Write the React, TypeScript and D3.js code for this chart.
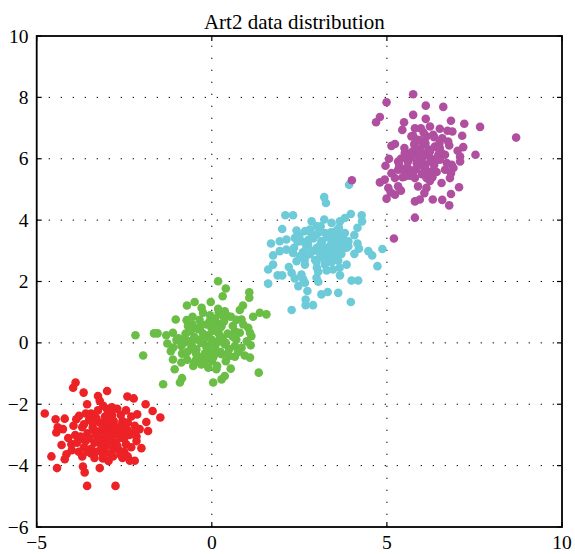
import React from "react";
import * as d3 from "d3";

// Cluster samples, [x, y] in data units
const redPoints: [number, number][] = [
  [-3.89, -1.29], [-3.96, -1.46], [-3.66, -1.62], [-2.99, -1.57], [-3.25, -1.73], [-3.2, -1.89],
  [-2.41, -1.75], [-2.23, -1.81], [-3.56, -2.0], [-1.89, -2.0], [-4.77, -2.3], [-2.99, -2.16],
  [-1.69, -2.22], [-2.13, -2.33], [-1.47, -2.43], [-4.46, -2.49], [-4.2, -2.47], [-3.87, -2.49],
  [-3.79, -2.38], [-1.87, -2.58], [-4.44, -2.92], [-4.25, -2.81], [-4.4, -2.75], [-2.06, -2.81],
  [-1.82, -2.87], [-2.15, -3.05], [-4.29, -3.33], [-4.01, -3.3], [-3.77, -3.14], [-2.01, -3.43],
  [-4.58, -3.7], [-4.2, -3.79], [-4.15, -3.63], [-3.11, -3.77], [-2.82, -3.7], [-2.58, -3.63],
  [-2.34, -3.84], [-2.2, -3.84], [-4.42, -4.08], [-3.68, -4.03], [-3.2, -4.08], [-3.63, -4.22],
  [-3.56, -4.66], [-2.75, -4.66],
  [-2.95, -2.95], [-2.85, -3.05], [-3.05, -3.1], [-2.7, -2.9], [-3.15, -2.85], [-2.9, -2.7],
  [-2.6, -3.1], [-3.3, -3.0], [-2.75, -3.25], [-3.0, -3.35], [-2.5, -2.8], [-3.2, -2.6],
  [-2.8, -2.55], [-2.55, -2.55], [-3.4, -2.75], [-3.35, -3.25], [-2.45, -3.3], [-3.1, -3.5],
  [-2.65, -3.5], [-2.35, -3.0], [-2.4, -2.6], [-2.6, -2.35], [-3.05, -2.4], [-3.3, -2.45],
  [-3.45, -3.45], [-2.9, -3.6], [-2.3, -3.4], [-3.55, -2.95], [-2.2, -2.7], [-2.85, -2.35],
  [-3.2, -3.25], [-2.5, -3.55], [-2.75, -2.75], [-3.0, -2.8], [-2.9, -3.15], [-2.6, -2.7],
  [-3.25, -2.2], [-2.7, -2.15], [-2.45, -2.2], [-3.5, -2.5], [-3.6, -3.2], [-3.45, -3.6],
  [-2.3, -2.4], [-2.15, -3.2], [-3.7, -2.75], [-3.65, -3.4], [-3.9, -3.0], [-3.8, -3.55],
  [-3.95, -2.7], [-4.1, -3.1], [-3.7, -3.7], [-3.35, -3.75], [-2.95, -3.85], [-2.55, -3.75],
  [-2.4, -3.7], [-3.6, -2.3], [-3.1, -2.05], [-2.85, -2.1], [-2.25, -2.95], [-3.1, -3.65],
  [-3.75, -3.05], [-4.0, -3.5], [-3.55, -3.55],
  [-3.0, -3.0], [-2.8, -2.85], [-3.1, -2.7], [-2.65, -3.0], [-3.2, -3.1], [-2.95, -3.25],
  [-3.35, -2.85], [-2.5, -3.1], [-3.15, -3.4], [-2.7, -3.35], [-3.4, -2.6], [-2.55, -2.95],
  [-3.0, -2.55], [-2.8, -3.45], [-3.25, -2.95], [-2.4, -2.85], [-3.5, -3.1], [-2.9, -2.45],
  [-3.3, -3.55], [-2.6, -3.65], [-3.45, -2.3], [-2.95, -2.25], [-3.65, -2.65], [-3.85, -3.25],
];

const greenPoints: [number, number][] = [
  [0.18, 2.01], [0.4, 1.77], [0.31, 1.52], [-0.03, 1.33], [1.07, 1.65], [1.07, 1.47],
  [-0.71, 1.22], [-0.49, 1.33], [-0.29, 1.14], [-0.25, 0.98], [0.18, 1.11], [0.37, 1.03],
  [0.89, 1.22], [0.8, 1.07], [1.37, 0.98], [1.18, 0.85], [1.56, 0.93], [-1.03, 0.76],
  [-0.72, 0.74], [-0.68, 0.55], [-0.06, 0.71], [0.09, 0.79], [0.47, 0.87], [0.85, 0.76],
  [-2.18, 0.25], [-1.65, 0.31], [-1.55, 0.31], [-1.11, 0.33], [-0.63, 0.38], [-0.34, 0.44],
  [-0.01, 0.49], [0.28, 0.55], [0.66, 0.38], [0.8, 0.33], [1.04, 0.49], [1.09, 0.33],
  [1.13, 0.22], [-1.27, -0.02], [-1.01, 0.09], [-0.77, 0.11], [-0.87, -0.1], [-0.58, -0.05],
  [-0.44, -0.21], [-0.1, -0.1], [0.18, 0.06], [0.37, -0.05], [0.66, -0.1], [0.85, -0.16],
  [1.11, -0.08], [-1.17, -0.27], [-1.96, -0.41], [-1.11, -0.54], [-0.87, -0.64], [-0.49, -0.64],
  [-0.34, -0.48], [-0.01, -0.32], [0.04, -0.48], [0.28, -0.37], [0.51, -0.43], [0.66, -0.45],
  [0.94, -0.41], [1.09, -0.48], [-1.06, -0.86], [-0.53, -0.75], [-0.1, -0.81], [0.13, -0.86],
  [0.54, -0.84], [1.34, -0.97], [-0.85, -1.15], [-0.91, -1.29], [-1.39, -1.35], [0.04, -1.29],
  [0.28, -1.19], [0.37, -1.08],
  [-0.5, 0.2], [-0.3, 0.0], [-0.1, 0.25], [0.1, -0.1], [0.3, 0.15], [-0.6, -0.2],
  [-0.2, -0.35], [0.05, 0.4], [0.25, -0.3], [-0.75, 0.3], [-0.4, 0.45], [0.45, 0.3],
  [0.5, -0.2], [-0.85, -0.35], [-0.65, 0.05], [0.15, 0.65], [-0.15, 0.6], [0.35, 0.7],
  [0.6, 0.55], [-0.45, -0.55], [0.0, -0.6], [0.2, 0.05], [-0.25, 0.3], [-0.95, 0.15],
  [0.7, 0.1], [0.55, 0.85], [0.2, 1.0], [-0.05, 0.9], [-0.35, 0.75], [0.75, -0.3],
  [-0.3, -0.7], [0.4, -0.6], [-0.7, -0.55], [-1.1, -0.15], [-1.3, 0.25], [0.9, 0.6],
  [1.0, 0.05], [-0.55, 0.6], [0.1, -0.35], [-0.15, -0.15],
  [-0.4, 0.1], [-0.2, 0.15], [0.0, 0.1], [0.2, 0.3], [-0.6, 0.4], [0.4, 0.0],
  [-0.8, 0.0], [-0.1, -0.45], [0.25, 0.5], [-0.45, -0.35], [0.6, 0.2], [-0.3, 0.6],
  [0.05, 0.65], [-0.7, -0.3], [0.45, -0.35], [0.3, 0.9], [-0.55, 0.85], [0.7, 0.75],
  [-0.2, -0.6], [0.15, -0.75],
];

const cyanPoints: [number, number][] = [
  [3.21, 4.75], [3.26, 4.56], [2.1, 4.16], [2.32, 4.16], [2.01, 3.71], [2.85, 3.96],
  [3.21, 4.02], [3.11, 3.8], [3.42, 3.91], [3.66, 3.96], [3.8, 4.07], [3.97, 4.2],
  [4.28, 4.16], [4.29, 3.96], [4.16, 3.75], [3.63, 3.75], [2.42, 3.66], [2.66, 3.64],
  [2.8, 3.69], [2.99, 3.53], [3.23, 3.58], [3.37, 3.47], [3.61, 3.53], [3.8, 3.58],
  [4.07, 3.51], [1.69, 3.24], [1.94, 3.31], [2.13, 3.37], [2.37, 3.42], [2.56, 3.31],
  [2.75, 3.2], [3.13, 3.31], [3.42, 3.26], [3.61, 3.15], [3.75, 3.26], [3.9, 3.31],
  [4.16, 3.24], [4.2, 3.07], [4.47, 2.99], [4.58, 2.85], [4.87, 3.06], [1.75, 2.85],
  [1.94, 2.99], [2.13, 3.04], [2.32, 2.93], [2.51, 2.82], [2.75, 2.88], [3.04, 2.99],
  [3.28, 2.93], [3.51, 2.88], [3.71, 3.04], [3.9, 3.15], [4.07, 2.9], [2.42, 2.66],
  [2.66, 2.55], [2.99, 2.64], [3.23, 2.55], [3.42, 2.64], [3.61, 2.68], [3.85, 2.55],
  [4.73, 2.5], [1.61, 2.39], [1.75, 2.55], [2.2, 2.47], [2.28, 2.28], [2.56, 2.23],
  [3.04, 2.32], [3.28, 2.36], [3.46, 2.39], [3.66, 2.2], [1.88, 2.2], [2.01, 2.2],
  [2.37, 2.1], [2.61, 2.07], [2.66, 1.96], [2.47, 1.85], [2.99, 2.12], [3.04, 1.99],
  [3.99, 2.03], [4.18, 2.03], [1.61, 1.93], [2.73, 1.69], [3.13, 1.58], [3.31, 1.66],
  [3.61, 1.63], [2.68, 1.41], [2.68, 1.23], [2.89, 1.23], [3.97, 1.33], [2.28, 1.07],
  [3.92, 5.15],
  [3.0, 3.1], [3.2, 3.0], [2.9, 3.4], [3.4, 3.2], [3.1, 2.8], [2.8, 2.9],
  [3.3, 3.45], [3.5, 2.7], [2.7, 3.15], [3.6, 3.3], [3.05, 3.6], [2.95, 2.7],
  [3.7, 2.9], [3.35, 2.75], [2.6, 2.95], [3.15, 3.3], [3.45, 3.0], [2.85, 3.55],
  [3.55, 3.65], [3.25, 2.6], [3.75, 3.5], [2.5, 3.5], [3.0, 2.45], [3.65, 2.45],
  [2.35, 3.1],
  [3.1, 3.2], [2.9, 3.0], [3.3, 3.1], [3.5, 3.4], [2.75, 3.35], [3.2, 2.75],
  [3.6, 2.95], [2.65, 2.7], [3.4, 3.6], [3.0, 3.8], [2.45, 3.3], [3.85, 3.1],
];

const magentaPoints: [number, number][] = [
  [5.75, 8.1], [4.99, 7.84], [6.11, 7.73], [6.61, 7.69], [4.8, 7.36], [4.69, 7.19],
  [5.75, 7.43], [6.11, 7.3], [5.49, 7.19], [6.83, 7.24], [7.21, 7.14], [7.66, 7.04],
  [8.69, 6.69], [5.44, 6.94], [5.8, 6.99], [5.97, 6.99], [6.23, 7.05], [6.51, 6.98],
  [6.73, 6.91], [6.87, 6.89], [7.15, 6.75], [5.7, 6.73], [5.89, 6.62], [6.13, 6.73],
  [6.32, 6.78], [6.58, 6.67], [6.75, 6.56], [5.23, 6.48], [5.13, 6.42], [5.78, 6.48],
  [6.04, 6.46], [6.37, 6.4], [6.51, 6.35], [6.78, 6.43], [7.18, 6.38], [5.51, 6.19],
  [5.75, 6.24], [5.94, 6.13], [6.23, 6.24], [6.47, 6.13], [6.66, 6.13], [7.02, 6.26],
  [7.09, 6.07], [7.53, 6.13], [7.09, 5.91], [5.06, 6.0], [5.32, 5.91], [5.61, 5.97],
  [5.85, 5.86], [6.0, 5.8], [6.28, 5.91], [6.51, 5.97], [6.71, 5.86], [6.85, 5.8],
  [4.96, 5.77], [5.13, 5.53], [5.32, 5.64], [5.56, 5.7], [5.8, 5.64], [6.09, 5.7],
  [6.42, 5.57], [6.66, 5.64], [6.9, 5.7], [6.83, 5.53], [4.8, 5.23], [4.94, 5.32],
  [5.23, 5.37], [5.51, 5.42], [5.8, 5.37], [6.13, 5.37], [6.23, 5.28], [6.56, 5.21],
  [6.8, 5.37], [5.04, 5.05], [5.32, 5.1], [5.11, 4.9], [5.89, 5.1], [6.13, 5.05],
  [7.06, 5.07], [4.99, 4.7], [5.23, 4.83], [5.4, 4.96], [6.07, 4.88], [5.8, 4.61],
  [5.94, 4.67], [6.31, 4.67], [6.58, 4.66], [6.83, 4.85], [6.78, 4.48], [5.2, 3.4],
  [4.0, 5.3], [5.8, 4.08],
  [5.6, 5.9], [5.9, 6.1], [6.1, 5.8], [5.8, 6.4], [6.2, 6.3], [5.5, 5.6],
  [6.0, 5.5], [6.4, 6.0], [5.7, 6.2], [5.4, 6.0], [6.3, 5.6], [5.95, 6.6],
  [6.5, 6.5], [5.65, 5.45], [6.05, 6.85], [5.35, 5.8], [6.25, 5.95], [5.85, 5.7],
  [6.55, 6.2], [5.5, 6.35], [6.15, 5.5], [5.75, 6.75], [6.35, 6.7], [5.45, 5.4],
  [6.0, 6.2],
  [5.7, 6.05], [6.0, 6.0], [5.9, 5.85], [6.2, 6.1], [5.6, 5.7], [6.35, 5.8],
  [5.75, 5.55], [6.1, 6.5], [5.55, 6.1], [6.45, 6.35], [5.9, 6.3], [6.3, 5.4],
];

const xTicks = [-5, 0, 5, 10];
const yTicks = [-6, -4, -2, 0, 2, 4, 6, 8, 10];
const title = "Art2 data distribution";

const series = [
  { points: redPoints, color: "#ed2226" },
  { points: greenPoints, color: "#6abd45" },
  { points: cyanPoints, color: "#6dcbd9" },
  { points: magentaPoints, color: "#b04f9f" },
];

const W = 575;
const H = 554;
const left = 36.7;
const right = 562;
const top = 36;
const bottom = 527;

const fmt = (v: number) => (v < 0 ? "\u2212" + Math.abs(v) : String(v));

export default function App() {
  const x = d3.scaleLinear().domain([-5, 10]).range([left, right]);
  const y = d3.scaleLinear().domain([-6, 10]).range([bottom, top]);
  const font = "'Liberation Serif', 'Times New Roman', serif";

  return (
    <svg
      width={W}
      height={H}
      style={{ position: "absolute", left: 0, top: 0, background: "#fff" }}
    >
      {/* dotted grid */}
      <g stroke="#000" strokeWidth={1} strokeDasharray="1.3,10.7">
        {xTicks.slice(1, -1).map((t) => (
          <line key={"gx" + t} x1={x(t)} x2={x(t)} y1={bottom} y2={top} />
        ))}
        {yTicks.slice(1, -1).map((t) => (
          <line key={"gy" + t} x1={left} x2={right} y1={y(t)} y2={y(t)} />
        ))}
      </g>

      {/* scatter */}
      {series.map((s, i) => (
        <g key={i} fill={s.color}>
          {s.points.map((p, j) => (
            <circle key={j} cx={x(p[0])} cy={y(p[1])} r={4.3} />
          ))}
        </g>
      ))}

      {/* inward ticks on all sides */}
      <g stroke="#000" strokeWidth={1.2}>
        {xTicks.map((t) => (
          <g key={"tx" + t}>
            <line x1={x(t)} x2={x(t)} y1={bottom} y2={bottom - 5} />
            <line x1={x(t)} x2={x(t)} y1={top} y2={top + 5} />
          </g>
        ))}
        {yTicks.map((t) => (
          <g key={"ty" + t}>
            <line x1={left} x2={left + 5} y1={y(t)} y2={y(t)} />
            <line x1={right} x2={right - 5} y1={y(t)} y2={y(t)} />
          </g>
        ))}
      </g>

      {/* frame */}
      <rect
        x={left}
        y={top}
        width={right - left}
        height={bottom - top}
        fill="none"
        stroke="#000"
        strokeWidth={1.8}
      />

      {/* tick labels */}
      <g fontFamily={font} fontSize={19.5} fill="#000">
        {xTicks.map((t) => (
          <text key={"lx" + t} x={x(t)} y={549} textAnchor="middle">
            {fmt(t)}
          </text>
        ))}
        {yTicks.map((t) => (
          <text key={"ly" + t} x={28.5} y={y(t) + 6.5} textAnchor="end">
            {fmt(t)}
          </text>
        ))}
      </g>

      <text
        x={(left + right) / 2 - 5}
        y={29}
        textAnchor="middle"
        fontFamily={font}
        fontSize={21}
        fill="#000"
      >
        {title}
      </text>
    </svg>
  );
}
